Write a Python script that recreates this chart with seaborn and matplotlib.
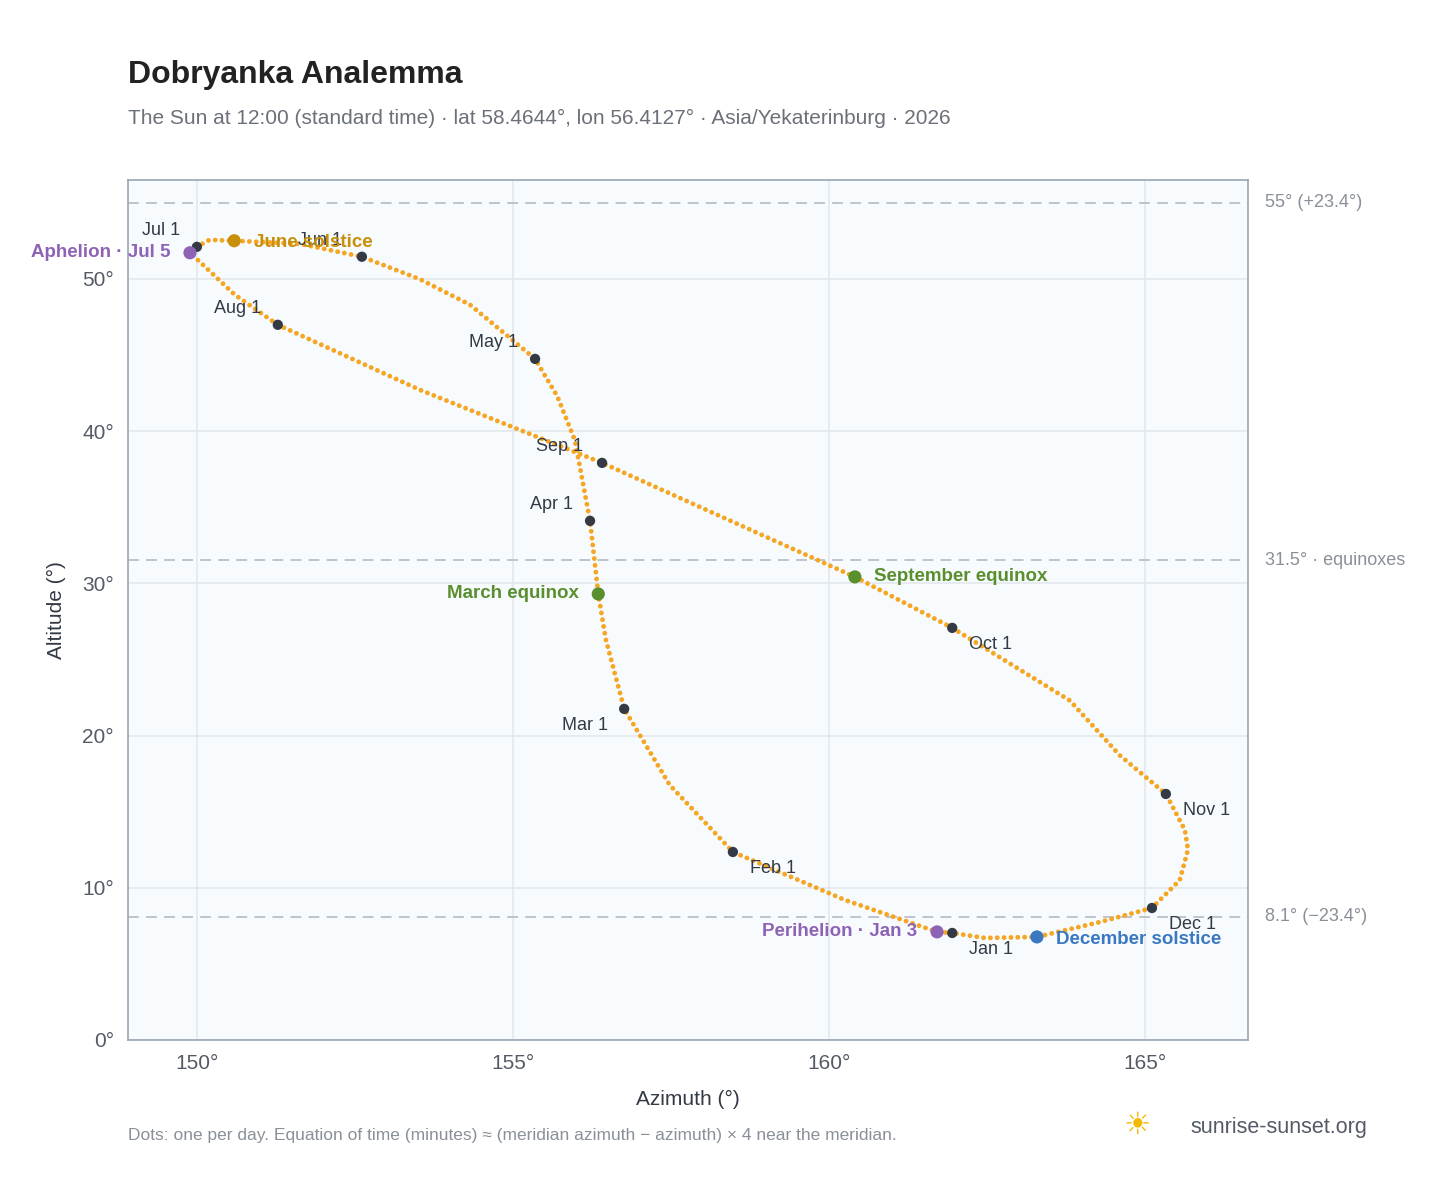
import matplotlib
matplotlib.use('Agg')
import matplotlib.pyplot as plt
import seaborn as sns

sns.set_theme(style='white')
plt.rcParams['font.family'] = ['Liberation Sans', 'DejaVu Sans']

# path of the sun through the year, Jan 1 -> Dec 31
path_az = [161.95, 161.71, 160.25, 158.48, 157.48, 156.76, 156.47, 156.35, 156.22, 155.98,
           155.7, 155.35, 154.32, 153.53, 152.61, 151.63, 150.59, 150.2, 150.0, 149.92, 149.89,
           150.05, 150.6, 151.28, 153.53, 156.41, 160.41, 161.95, 163.81, 164.6, 165.33,
           165.63, 165.68, 165.55, 165.11, 164.29, 163.29, 162.47, 161.95]
path_alt = [7.03, 7.10, 9.2, 12.35, 16.75, 21.75, 26.3, 29.3, 34.1, 39.4,
            42.3, 44.74, 48.3, 49.97, 51.45, 52.3, 52.5, 52.56, 52.1, 52.0, 51.71,
            51.1, 48.95, 46.98, 42.7, 37.91, 30.42, 27.07, 22.3, 18.7, 16.16,
            13.8, 12.5, 10.5, 8.67, 7.75, 6.77, 6.7, 7.03]

month_names = ['Jan 1', 'Feb 1', 'Mar 1', 'Apr 1', 'May 1', 'Jun 1', 'Jul 1', 'Aug 1',
               'Sep 1', 'Oct 1', 'Nov 1', 'Dec 1']
month_az = [161.95, 158.48, 156.76, 156.22, 155.35, 152.61, 150.0, 151.28, 156.41, 161.95, 165.33, 165.11]
month_alt = [7.03, 12.35, 21.75, 34.1, 44.74, 51.45, 52.1, 46.98, 37.91, 27.07, 16.16, 8.67]
month_dx = [12, 12, -12, -12, -12, -14, -12, -12, -14, 12, 12, 12]
month_dy = [-12, -12, -12, 12, 12, 12, 12, 12, 12, -12, -12, -12]

event_names = ['June solstice', 'Aphelion · Jul 5', 'March equinox', 'September equinox',
               'Perihelion · Jan 3', 'December solstice']
event_az = [150.59, 149.89, 156.35, 160.41, 161.71, 163.29]
event_alt = [52.5, 51.71, 29.3, 30.42, 7.10, 6.77]
event_colors = ['#c8900a', '#8e63b5', '#5a8f2e', '#5a8f2e', '#8e63b5', '#3a78c2']

ref_alt = [55.0, 31.5, 8.1]
ref_labels = ['55° (+23.4°)', '31.5° · equinoxes', '8.1° (−23.4°)']

fig = plt.figure(figsize=(14.48, 11.88), dpi=100)
ax = fig.add_axes([0.0884, 0.1246, 0.7735, 0.724])
ax.set_facecolor('#f8fbfe')
for s in ax.spines.values():
    s.set_color('#9aa5b1')
    s.set_linewidth(1.2)

ax.set_xlim(148.91, 166.63)
ax.set_ylim(0, 56.5)
ax.set_xticks([150, 155, 160, 165], ['150°', '155°', '160°', '165°'])
ax.set_yticks([0, 10, 20, 30, 40, 50], ['0°', '10°', '20°', '30°', '40°', '50°'])
ax.grid(True, color='#e3e8ee', linewidth=1.2)
ax.set_axisbelow(True)
ax.tick_params(labelsize=15, colors='#555b66', length=0, pad=10)

for a, lab in zip(ref_alt, ref_labels):
    ax.axhline(a, color='#b8c0ca', linestyle=(0, (6, 4)), linewidth=1.3)
    ax.annotate(lab, xy=(1, a), xycoords=('axes fraction', 'data'), xytext=(12, 0),
                textcoords='offset points', va='center', fontsize=13, color='#8a9099')

ax.plot(path_az, path_alt, color='#f5a623', linewidth=3.5,
        linestyle=(0, (0.01, 1.4)), dash_capstyle='round', solid_capstyle='round')

sns.scatterplot(x=month_az, y=month_alt, ax=ax, color='#333a45', s=55, edgecolor='none', zorder=5)
for n, x, y, dx, dy in zip(month_names, month_az, month_alt, month_dx, month_dy):
    ax.annotate(n, (x, y), xytext=(dx, dy), textcoords='offset points', fontsize=13,
                color='#333a45', ha='left' if dx > 0 else 'right', va='center')

sns.scatterplot(x=event_az, y=event_alt, ax=ax, hue=event_names, palette=event_colors,
                s=90, edgecolor='none', zorder=6, legend=False)
ev_off = [(14, -1), (-14, 0), (-14, 0), (14, 0), (-14, 0), (14, -2)]
for n, x, y, c, (dx, dy) in zip(event_names, event_az, event_alt, event_colors, ev_off):
    ax.annotate(n, (x, y), xytext=(dx, dy), textcoords='offset points', fontsize=13.5,
                fontweight='bold', color=c, ha='left' if dx > 0 else 'right', va='center',
                annotation_clip=False)

ax.set_xlabel('Azimuth (°)', fontsize=15, color='#333a45', labelpad=12)
ax.set_ylabel('Altitude (°)', fontsize=15, color='#333a45', labelpad=12)

fig.text(0.0884, 0.93, 'Dobryanka Analemma', fontsize=23, fontweight='bold', color='#222222')
fig.text(0.0884, 0.896, 'The Sun at 12:00 (standard time) · lat 58.4644°, lon 56.4127° · Asia/Yekaterinburg · 2026',
         fontsize=15, color='#6b7079')
fig.text(0.0884, 0.04, 'Dots: one per day. Equation of time (minutes) ≈ (meridian azimuth − azimuth) × 4 near the meridian.',
         fontsize=12.5, color='#8a9099')
fig.text(0.776, 0.046, '☀', fontsize=22, color='#f5b800')
fig.text(0.822, 0.046, 'sunrise-sunset.org', fontsize=15.5, color='#555b66')

fig.savefig('out.png', dpi=100)
